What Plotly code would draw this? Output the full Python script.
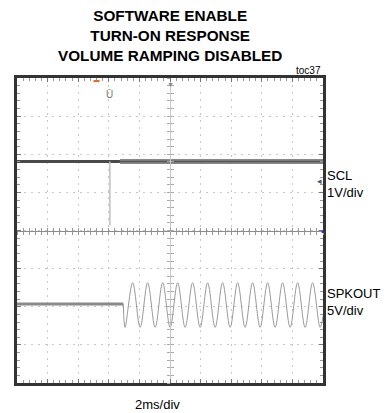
import plotly.graph_objects as go

# ---- data (time in ms, 2 ms/div; vertical in divisions) ----
scl_pre_x = [0.0, 6.73]
scl_pre_y = [1.81, 1.81]
scl_post_x = [6.73, 20.0]
scl_post_y = [1.81, 1.81]
glitch_x = [6.07, 6.07]
glitch_y = [1.81, 0.14]

spk_flat_x = [0.0, 6.95]
spk_flat_y = [-1.93, -1.93]
spk_x = [6.95, 7.06, 7.56, 8.05, 8.54, 9.03, 9.52, 10.01, 10.50, 10.99, 11.48,
         11.97, 12.46, 12.95, 13.44, 13.93, 14.42, 14.91, 15.40, 15.89, 16.38,
         16.87, 17.36, 17.85, 18.34, 18.83, 19.32, 19.81, 20.0]
spk_y = [-1.93, -2.54, -1.37, -2.54, -1.37, -2.54, -1.37, -2.54, -1.37, -2.54, -1.37,
         -2.54, -1.37, -2.54, -1.37, -2.54, -1.37, -2.54, -1.37, -2.54, -1.37,
         -2.54, -1.37, -2.54, -1.37, -2.54, -1.37, -2.54, -2.25]

title_lines = ["SOFTWARE ENABLE", "TURN-ON RESPONSE", "VOLUME RAMPING DISABLED"]
ch_labels = [("SCL", "1V/div"), ("SPKOUT", "5V/div")]
ch_label_top = [1.69, -1.41]
x_label = "2ms/div"
fig_id = "toc37"
trigger_pos = 5.2
trig_marker_x = 6.05

fig = go.Figure()

# SCL
fig.add_trace(go.Scatter(x=scl_post_x, y=scl_post_y, mode="lines",
                         line=dict(color="rgba(115,115,115,0.85)", width=5), hoverinfo="skip"))
fig.add_trace(go.Scatter(x=scl_post_x, y=scl_post_y, mode="lines",
                         line=dict(color="#555", width=1.5), hoverinfo="skip"))
fig.add_trace(go.Scatter(x=scl_pre_x, y=scl_pre_y, mode="lines",
                         line=dict(color="#4a4a4a", width=3), hoverinfo="skip"))
fig.add_trace(go.Scatter(x=glitch_x, y=glitch_y, mode="lines",
                         line=dict(color="#c0c0c0", width=1.5), hoverinfo="skip"))
# SPKOUT
fig.add_trace(go.Scatter(x=spk_flat_x, y=spk_flat_y, mode="lines",
                         line=dict(color="#8a8a8a", width=3), hoverinfo="skip"))
fig.add_trace(go.Scatter(x=spk_x, y=spk_y, mode="lines",
                         line=dict(color="#9a9a9a", width=1, shape="spline", smoothing=1.0),
                         hoverinfo="skip"))

# dummy traces for center graticule axes
fig.add_trace(go.Scatter(x=[None], y=[None], xaxis="x2", yaxis="y2", showlegend=False))
fig.add_trace(go.Scatter(x=[None], y=[None], xaxis="x3", yaxis="y3", showlegend=False))

grid_dash = "2px,5px"
common = dict(showticklabels=False, zeroline=False, fixedrange=True)

fig.update_layout(
    width=391, height=413,
    margin=dict(l=17, r=68, t=78, b=30),
    paper_bgcolor="white", plot_bgcolor="white",
    showlegend=False,
    font=dict(family="Liberation Sans, Arial, sans-serif", color="black"),
    xaxis=dict(range=[0, 20], tick0=0, dtick=2, showgrid=True, gridcolor="#c8c8c8",
               griddash=grid_dash, gridwidth=1,
               ticks="inside", ticklen=4, tickcolor="#777",
               minor=dict(dtick=0.4, ticks="inside", ticklen=3, tickcolor="#999", showgrid=False),
               showline=True, linecolor="#333", linewidth=2.5, mirror="ticks", **common),
    yaxis=dict(range=[-4, 4], tick0=0, dtick=1, showgrid=True, gridcolor="#c8c8c8",
               griddash=grid_dash, gridwidth=1,
               ticks="inside", ticklen=4, tickcolor="#777",
               minor=dict(dtick=0.2, ticks="inside", ticklen=3, tickcolor="#999", showgrid=False),
               showline=True, linecolor="#333", linewidth=2.5, mirror="ticks", **common),
    xaxis2=dict(range=[0, 20], overlaying="x", anchor="free", position=0.5, showgrid=False,
                tick0=0, dtick=2, ticks="outside", ticklen=3, tickcolor="#999",
                minor=dict(dtick=0.4, ticks="outside", ticklen=3, tickcolor="#999"),
                showline=True, linecolor="#8c8c8c", linewidth=1, **common),
    yaxis2=dict(range=[-4, 4], overlaying="y", anchor="free", position=0.5, showgrid=False,
                tick0=0, dtick=1, ticks="outside", ticklen=3, tickcolor="#aaa",
                minor=dict(dtick=0.2, ticks="outside", ticklen=3, tickcolor="#aaa"),
                showline=True, linecolor="#c8c8c8", linewidth=1, **common),
    xaxis3=dict(range=[0, 20], overlaying="x", anchor="free", position=0.5, showgrid=False,
                tick0=0, dtick=2, ticks="inside", ticklen=3, tickcolor="#999",
                minor=dict(dtick=0.4, ticks="inside", ticklen=3, tickcolor="#999"),
                showline=False, **common),
    yaxis3=dict(range=[-4, 4], overlaying="y", anchor="free", position=0.5, showgrid=False,
                tick0=0, dtick=1, ticks="inside", ticklen=3, tickcolor="#aaa",
                minor=dict(dtick=0.2, ticks="inside", ticklen=3, tickcolor="#aaa"),
                showline=False, **common),
)

ann = []
ann.append(dict(text="<b>" + "<br>".join(title_lines) + "</b>", xref="paper", yref="paper",
                x=0.5, y=1, yshift=12, xanchor="center", yanchor="bottom", showarrow=False,
                font=dict(size=15.3, family="Liberation Sans, Arial, sans-serif")))
ann.append(dict(text=fig_id, xref="paper", yref="paper", x=1, y=1, xanchor="right",
                yanchor="bottom", yshift=0, showarrow=False, font=dict(size=10)))
ann.append(dict(text=x_label, xref="paper", yref="paper", x=0.458, y=0, yshift=-12,
                xanchor="center", yanchor="top", showarrow=False, font=dict(size=13)))
for (name, scale), yv in zip(ch_labels, ch_label_top):
    ann.append(dict(text=name + "<br>" + scale, xref="paper", yref="y", x=1, y=yv,
                    xanchor="left", yanchor="top", xshift=2, showarrow=False,
                    align="left", font=dict(size=13)))
# scope markers
ann.append(dict(text="Ū", xref="x", yref="paper", x=trig_marker_x, y=1, yshift=-9,
                xanchor="center", yanchor="top", showarrow=False,
                font=dict(size=10, color="#777")))
ann.append(dict(text="▼", xref="x", yref="paper", x=10, y=1, yshift=-1,
                xanchor="center", yanchor="top", showarrow=False,
                font=dict(size=7, color="#888")))
ann.append(dict(text="◂", xref="paper", yref="y", x=1, y=scl_pre_y[0] - 0.5, xshift=-4,
                xanchor="center", yanchor="middle", showarrow=False,
                font=dict(size=9, color="#555")))
ann.append(dict(text="■", xref="paper", yref="y", x=1, y=0, xshift=-1,
                xanchor="center", yanchor="middle", showarrow=False,
                font=dict(size=5, color="#2233dd")))
fig.update_layout(annotations=ann)

fig.add_shape(type="line", xref="x", yref="paper", x0=trigger_pos - 0.2, x1=trigger_pos + 0.2,
              y0=0.99, y1=0.99, line=dict(color="#e86a1a", width=2))

fig.write_html("out.html", config={"displayModeBar": False},
               post_script="document.body.style.margin='0px';")
